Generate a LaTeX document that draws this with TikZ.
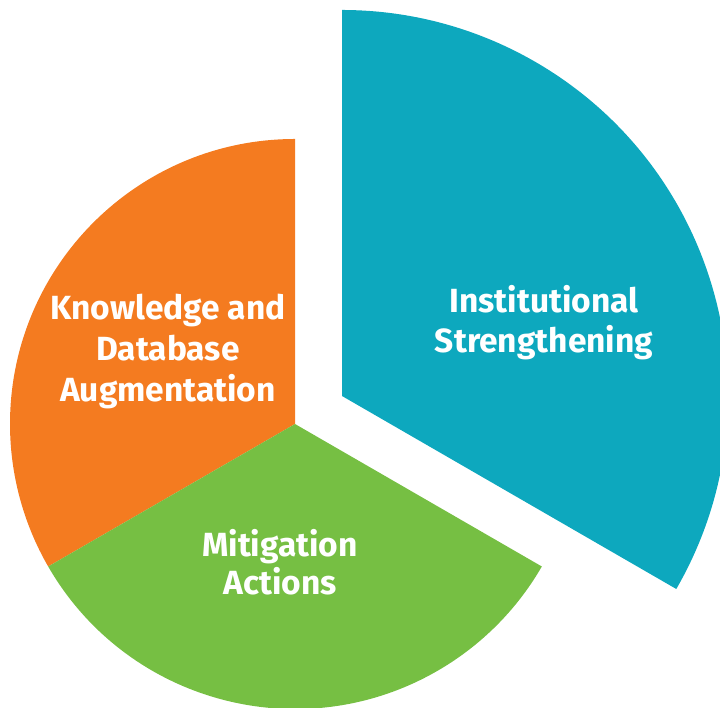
\documentclass[tikz,border=0pt]{standalone}
\usepackage{fontspec}
\setmainfont{Fira Sans}
\definecolor{teal}{HTML}{0DA8BE}
\definecolor{orng}{HTML}{F47B20}
\definecolor{grn}{HTML}{76BF43}
\begin{document}
\begin{tikzpicture}[x=1pt,y=1pt,
  lbl/.style={text=white,font=\bfseries\fontsize{33.5}{40}\selectfont,align=center,anchor=base,inner sep=0pt}]
\useasboundingbox (0,0) rectangle (720,708);
\clip (0,0) rectangle (720,708);
\coordinate (c1) at (295,284);
\coordinate (c2) at (342,312);
\fill[teal] (c2) -- ++(-30:386) arc[start angle=-30,end angle=90,radius=386] -- cycle;
\fill[orng] (c1) -- ++(90:285) arc[start angle=90,end angle=210,radius=285] -- cycle;
\fill[grn] (c1) -- ++(210:285) arc[start angle=210,end angle=330,radius=285] -- cycle;
\node[lbl] (inst) at (544,355) {Institutional\\Strengthening};
\node[lbl,font=\bfseries\fontsize{33.5}{38}\selectfont] (mit) at (280,113) {Mitigation\\Actions};
\node[lbl,font=\bfseries\fontsize{33.5}{41}\selectfont] (know) at (168,306) {Knowledge and\\Database\\Augmentation};
\end{tikzpicture}
\end{document}
